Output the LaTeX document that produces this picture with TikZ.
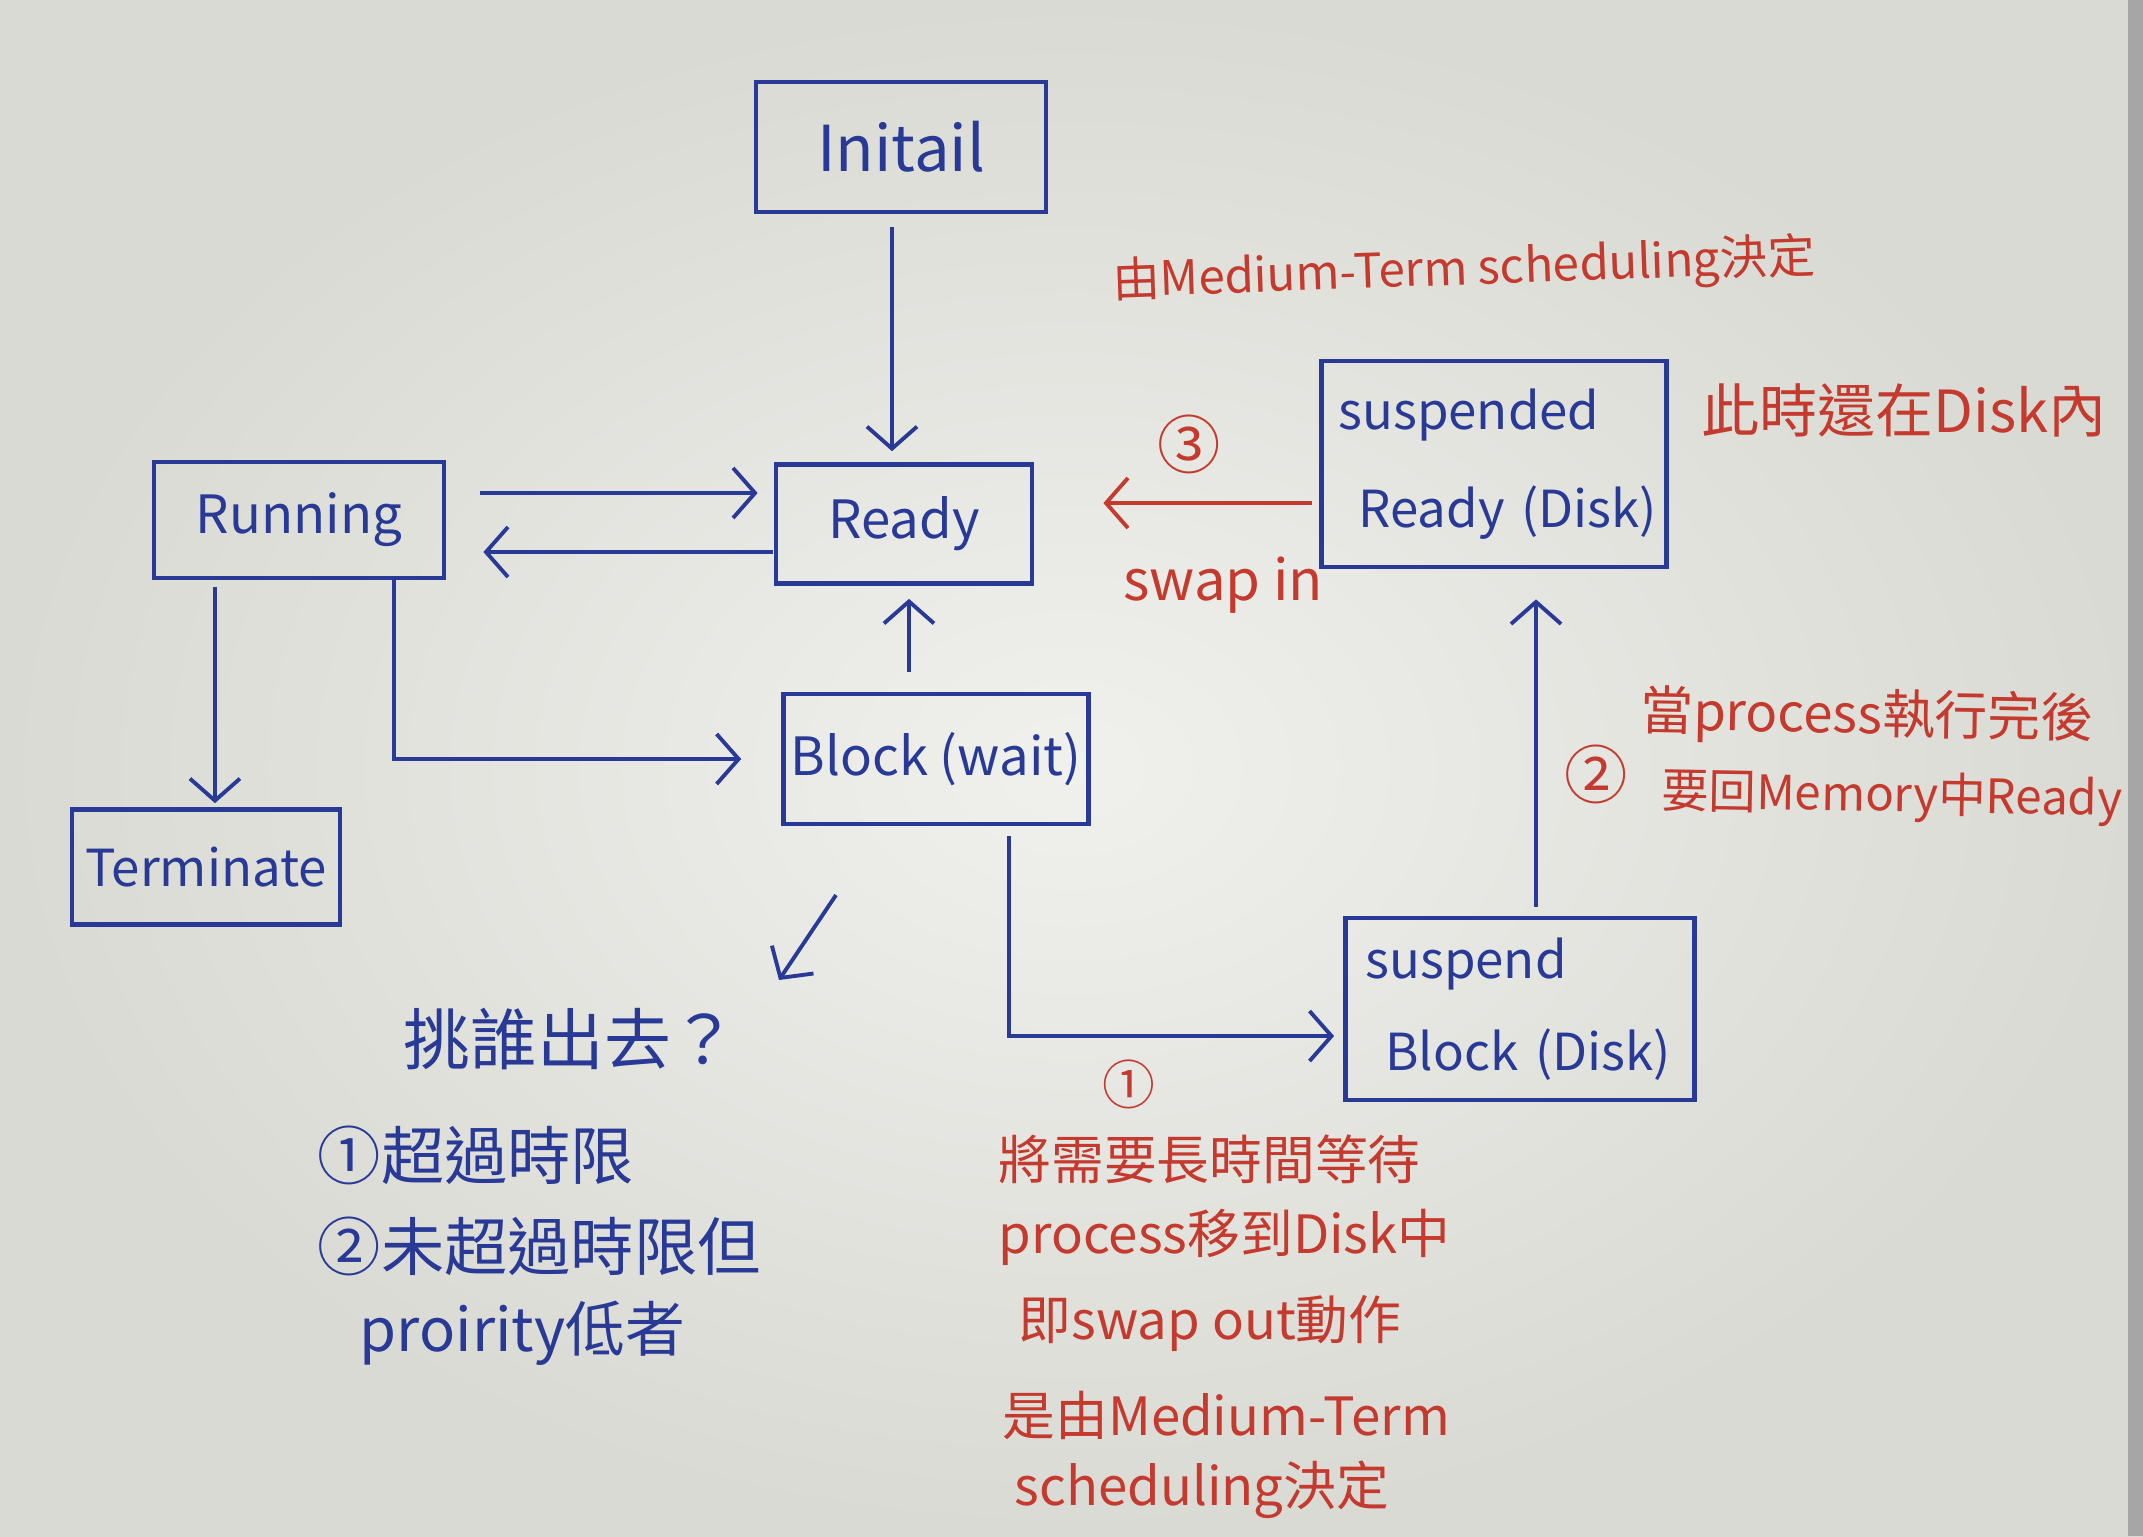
\documentclass[tikz,border=0pt]{standalone}
\usepackage{fontspec}
\newfontfamily\cjk{Noto Sans CJK TC}
\usetikzlibrary{arrows.meta,calc}
\definecolor{inkblue}{RGB}{40,58,150}
\definecolor{inkred}{RGB}{196,58,46}
\definecolor{paperlight}{RGB}{240,240,237}
\definecolor{paperdark}{RGB}{218,218,212}
\tikzset{
  box/.style={draw=inkblue,line width=1.3pt,text=inkblue,font=\cjk\fontsize{15}{20}\selectfont,inner sep=2pt},
  arr/.style={draw=inkblue,line width=1.1pt,-{Straight Barb[length=2.2mm,width=5mm,line width=1.1pt]}},
  rarr/.style={arr,draw=inkred},
  rtxt/.style={text=inkred,font=\cjk\fontsize{15}{22}\selectfont,anchor=west,inner sep=0pt},
  btxt/.style={text=inkblue,font=\cjk\fontsize{18}{22}\selectfont,anchor=west,inner sep=0pt},
  circnum/.style={text=inkred,font=\cjk\fontsize{18}{20}\selectfont},
}
\begin{document}
\begin{tikzpicture}[x=0.01cm,y=-0.01cm]
\useasboundingbox (0,0) rectangle (2143,1536);
\shade[inner color=paperlight,outer color=paperdark] (0,0) rectangle (2143,1536);
\fill[gray!70] (2128,0) rectangle (2143,1536);

% boxes
\node[box,minimum width=2.90cm,minimum height=1.30cm,font=\cjk\fontsize{18}{20}\selectfont] (init) at (901,147) {Initail};
\node[box,minimum width=2.90cm,minimum height=1.16cm] (run) at (299,520) {Running};
\node[box,minimum width=2.56cm,minimum height=1.19cm] (ready) at (904,524) {Ready};
\node[box,minimum width=3.01cm,minimum height=1.30cm] (block) at (936,759) {Block (wait)};
\node[box,minimum width=2.68cm,minimum height=1.15cm,font=\cjk\fontsize{14.5}{20}\selectfont] (term) at (206,867) {Terminate};
\node[box,text width=3.11cm,inner xsep=0.17cm,minimum height=2.06cm,align=left,font=\cjk\fontsize{14.5}{20}\selectfont] (sready) at (1494,464) {\mbox{suspended}\\[8pt]\mbox{\hspace{0.2cm}Ready (Disk)}};
\node[box,text width=3.09cm,inner xsep=0.2cm,minimum height=1.82cm,align=left,font=\cjk\fontsize{14.5}{20}\selectfont] (sblock) at (1520,1009) {\mbox{suspend}\\[6pt]\mbox{\hspace{0.2cm}Block (Disk)}};

% connectors
\draw[arr,shorten <=0.13cm,shorten >=0.11cm] ([xshift=-0.09cm]init.south) -- ([xshift=-0.09cm]init.south |- ready.north);
\draw[arr,shorten <=0.34cm,shorten >=0.16cm] ([yshift=0.27cm]run.east) -- ([yshift=0.27cm]run.east -| ready.west);
\draw[arr,shorten <=0.01cm,shorten >=0.37cm] ([yshift=-0.28cm]ready.west) -- ([yshift=-0.28cm]ready.west -| run.east);
\draw[arr,shorten <=0.20cm,shorten >=0.13cm] ([xshift=-0.27cm]block.north) -- ([xshift=-0.27cm]block.north |- ready.south);
\draw[arr,shorten >=0.40cm] ([xshift=0.95cm]run.south) |- (block.west);
\draw[arr,shorten <=0.07cm,shorten >=0.04cm] ([xshift=-0.84cm]run.south) -- ([xshift=-0.84cm]run.south |- term.north);
\draw[arr,shorten <=0.10cm,shorten >=0.09cm] ([xshift=0.73cm]block.south) |- ([yshift=-0.27cm]sblock.west);
\draw[arr,shorten <=0.09cm,shorten >=0.30cm] ([xshift=0.16cm]sblock.north) -- ([xshift=0.16cm]sblock.north |- sready.south);
\draw[rarr,shorten <=0.07cm,shorten >=0.69cm] ([yshift=-0.39cm]sready.west) -- ([yshift=-0.39cm]sready.west -| ready.east);
\coordinate (pa) at (836,895);
\coordinate (pb) at (779,980);
\draw[arr] (pa) -- (pb);

% red annotations
\node[rtxt,rotate=2,font=\cjk\fontsize{13.5}{20}\selectfont] (rtop) at (1112,283) {由Medium-Term scheduling決定};
\node[rtxt,font=\cjk\fontsize{16.5}{20}\selectfont] (rdisk) at (1701,410) {此時還在Disk內};
\node[circnum] (n3) at (1189,444) {③};
\node[text=inkred,font=\cjk\fontsize{16}{20}\selectfont] (swapin) at (1223,585) {swap in};
\node[circnum] (n2) at (1596,774) {②};
\node[rtxt,rotate=-1] (rb1) at (1640,713) {當process執行完後};
\node[rtxt,rotate=-1,font=\cjk\fontsize{13.5}{20}\selectfont] (rb2) at (1661,793) {要回Memory中Ready};
\node[circnum,font=\cjk\fontsize{15}{20}\selectfont] (n1) at (1129,1084) {①};
\node[rtxt] (rc1) at (998,1159) {將需要長時間等待};
\node[rtxt] (rc2) at (998,1237) {process移到Disk中};
\node[rtxt] (rc3) at (1018,1323) {即swap out動作};
\node[rtxt] (rc4) at (1002,1415) {是由Medium-Term};
\node[rtxt] (rc5) at (1014,1490) {scheduling決定};

% blue annotations
\node[btxt,font=\cjk\fontsize{19}{22}\selectfont] (q) at (403,1039) {挑誰出去？};
\node[btxt] (q1) at (317,1155) {①超過時限};
\node[btxt] (q2) at (317,1246) {②未超過時限但};
\node[btxt,font=\cjk\fontsize{17}{22}\selectfont] (q3) at (359,1333) {proirity低者};
\end{tikzpicture}
\end{document}
